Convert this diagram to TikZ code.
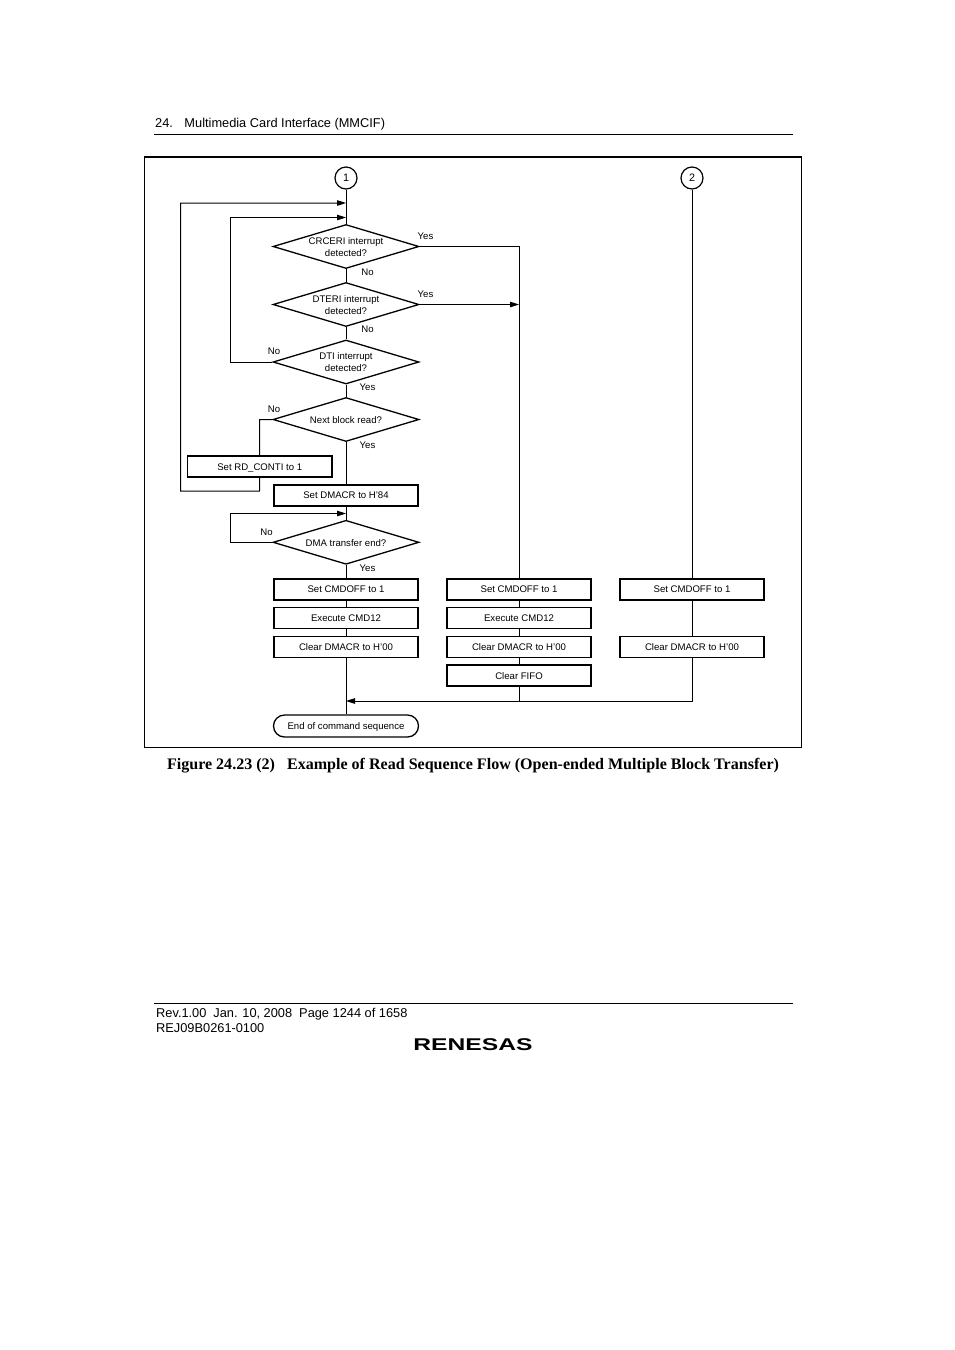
\documentclass[tikz,border=0pt]{standalone}
\usepackage{fontspec}
\setmainfont{Liberation Sans}
\newfontfamily\capfont{Liberation Serif}
\usetikzlibrary{shapes.geometric,shapes.misc,arrows.meta}
\tikzset{
  px/.style={x=1pt,y=-1pt},
  small/.style={font=\fontsize{9.6}{12}\selectfont,inner sep=0,align=center},
  flowbox/.style={draw=black,line width=1.6pt,minimum width=144.5pt,minimum height=21pt,inner sep=0,font=\fontsize{9.6}{12}\selectfont,text height=7.2pt,text depth=0pt},
  dia/.style={draw=black,line width=1.3pt,diamond,aspect=3.3,minimum width=146pt,minimum height=44pt,inner sep=0},
  diatext/.style={font=\fontsize{9.6}{12}\selectfont,inner sep=0,align=center,yshift=-0.4pt},
  term/.style={draw=black,line width=1.3pt,rounded rectangle,minimum width=145pt,minimum height=22pt,inner sep=0,font=\fontsize{9.6}{12}\selectfont,text height=7.6pt,text depth=0pt},
  conn/.style={draw=black,circle,line width=1.2pt,minimum size=22pt,inner sep=0,font=\fontsize{10.8}{12}\selectfont},
  flow/.style={draw=black,line width=1pt},
  arr/.style={flow,-{Stealth[length=9pt,width=5.5pt,inset=0pt]}},
  rulel/.style={draw=black,line width=0.8pt},
  page/.style={font=\fontsize{12.8}{14}\selectfont,inner sep=0,anchor=base west},
}
\begin{document}
\begin{tikzpicture}[px]
\useasboundingbox (0,0) rectangle (954,1350);
\fill[white] (0,0) rectangle (954,1350);
% page furniture
\node[page] (hd) at (155,127) {24.\hspace{11.5pt}Multimedia Card Interface (MMCIF)};
\coordinate (hl) at (154,134.5); \coordinate (hr) at (793,134.5);
\draw[rulel] (hl) -- (hr);
\coordinate (fl) at (154,1003.5); \coordinate (fr) at (793,1003.5);
\draw[rulel] (fl) -- (fr);
\node[page] (f1) at (156,1017) {Rev.1.00\hspace{7pt}Jan. 10, 2008\hspace{7pt}Page 1244 of 1658};
\node[page] (f2) at (156,1032) {REJ09B0261-0100};
\node[inner sep=0,font=\fontsize{17}{17}\selectfont\bfseries,xscale=1.45] (logo) at (473,1044.5) {RENESAS};
% frame
\draw[line width=1pt] (144.5,157) -- (144.5,747.2) -- (801.5,747.2) -- (801.5,157);
\draw[line width=2pt] (144,157) -- (802,157);
\node[font=\capfont\bfseries\fontsize{16.05}{18}\selectfont,inner sep=0] (cap) at (473,765.3)
  {Figure 24.23 (2)\hspace{12pt}Example of Read Sequence Flow (Open-ended Multiple Block Transfer)};
% connectors' free points
\coordinate (j1) at (346,203);
\coordinate (j2) at (346,217.5);
\coordinate (j3) at (346,513.5);
\coordinate (t2) at (519,304.5);
\coordinate (m) at (346,701);
\coordinate (o1) at (259.5,491);
\coordinate (o2) at (180.5,491);
\coordinate (o3) at (180.5,203);
\coordinate (l1) at (230.5,217.5);
\coordinate (l2) at (230.5,513.5);
\coordinate (n4) at (259.5,419.5);
% nodes
\node[conn] (c1) at (346,178) {1};
\node[conn] (c2) at (692,178) {2};
\node[dia,label={[diatext]center:CRCERI interrupt\\detected?}] (d1) at (346,246.5) {};
\node[dia,label={[diatext]center:DTERI interrupt\\detected?}] (d2) at (346,304.5) {};
\node[dia,label={[diatext]center:DTI interrupt\\detected?}] (d3) at (346,362) {};
\node[dia,label={[diatext]center:Next block read?}] (d4) at (346,419.5) {};
\node[flowbox] (rd) at (259.7,466.7) {Set RD\_CONTI to 1};
\node[flowbox] (dm) at (346,495.3) {Set DMACR to H'84};
\node[dia,label={[diatext]center:DMA transfer end?}] (d5) at (346,542.3) {};
\node[flowbox] (a1) at (346,589.3) {Set CMDOFF to 1};
\node[flowbox] (a2) at (346,618) {Execute CMD12};
\node[flowbox] (a3) at (346,646.8) {Clear DMACR to H'00};
\node[flowbox] (b1) at (519,589.3) {Set CMDOFF to 1};
\node[flowbox] (b2) at (519,618) {Execute CMD12};
\node[flowbox] (b3) at (519,646.8) {Clear DMACR to H'00};
\node[flowbox] (b4) at (519,675.7) {Clear FIFO};
\node[flowbox] (e1) at (692,589.3) {Set CMDOFF to 1};
\node[flowbox] (e3) at (692,646.8) {Clear DMACR to H'00};
\node[term] (end) at (346,726) {End of command sequence};
% labels
\node[small] (y1) at (425.5,236) {Yes};
\node[small] (n1) at (367.5,272) {No};
\node[small] (y2) at (425.5,294) {Yes};
\node[small] (n2) at (367.5,329.5) {No};
\node[small] (n3) at (274,351) {No};
\node[small] (y3) at (367.5,387) {Yes};
\node[small] (n5) at (274,409) {No};
\node[small] (y4) at (367.5,445) {Yes};
\node[small] (n6) at (266.5,532) {No};
\node[small] (y5) at (367.5,568) {Yes};
% connectors
\draw[flow] (c1) -- (d1.north);
\draw[flow] (d1.south) -- (d2.north);
\draw[flow] (d2.south) -- (d3.north);
\draw[flow] (d3.south) -- (d4.north);
\draw[flow] (d4.south) -- (dm.north);
\draw[flow] (dm.south) -- (d5.north);
\draw[flow] (d5.south) -- (a1.north);
\draw[flow] (a1.south) -- (a2.north);
\draw[flow] (a2.south) -- (a3.north);
\draw[flow] (a3.south) -- (end.north);
\draw[flow] (d1.east) -| (b1.north);
\draw[arr] (d2.east) -- (t2);
\draw[arr] (d3.west) -- (d3.west -| l1) -- (l1) -- (j2);
\draw[flow] (d4.west) -- (n4) -- (rd.north);
\draw[arr] (rd.south) -- (o1) -- (o2) -- (o3) -- (j1);
\draw[arr] (d5.west) -- (d5.west -| l2) -- (l2) -- (j3);
\draw[flow] (b1.south) -- (b2.north);
\draw[flow] (b2.south) -- (b3.north);
\draw[flow] (b3.south) -- (b4.north);
\draw[flow] (b4.south) -- (b4.south |- m);
\draw[flow] (c2) -- (e1.north);
\draw[flow] (e1.south) -- (e3.north);
\draw[arr] (e3.south) |- (m);
\end{tikzpicture}
\end{document}
